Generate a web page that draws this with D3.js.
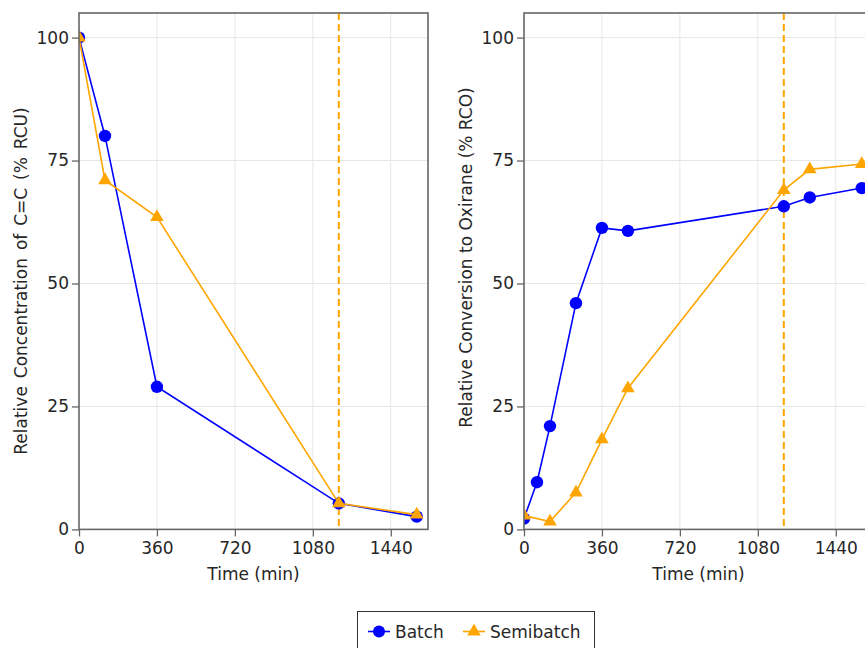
<!DOCTYPE html>
<html>
<head>
<meta charset="utf-8">
<script src="https://cdn.jsdelivr.net/npm/d3@7"></script>
<style>
  html, body { margin: 0; padding: 0; background: #fff; }
  svg { display: block; font-family: "DejaVu Sans", sans-serif; }
</style>
</head>
<body>
<svg id="chart" width="865" height="648"></svg>
<script>
// Time points (min) and measured values
const timeCBatch = [0, 120, 360, 1200, 1560];
const rcuBatch   = [100, 80, 29, 5.3, 2.6];
const timeCSemi  = [0, 120, 360, 1200, 1560];
const rcuSemi    = [100, 71, 63.5, 5.3, 3.0];

const timeOBatch = [0, 60, 120, 240, 360, 480, 1200, 1320, 1560];
const rcoBatch   = [2.2, 9.6, 21, 46, 61.3, 60.7, 65.7, 67.5, 69.4];
const timeOSemi  = [0, 120, 240, 360, 480, 1200, 1320, 1560];
const rcoSemi    = [2.8, 1.6, 7.5, 18.3, 28.7, 69, 73.2, 74.3];

const xTicks = [0, 360, 720, 1080, 1440];
const yTicks = [0, 25, 50, 75, 100];
const feedEnd = 1200; // end of semibatch feeding

const seriesNames = ["Batch", "Semibatch"];
const seriesColors = ["#0000ff", "#ffa500"];

const svg = d3.select("#chart");
const fontSize = 17;
const textColor = "#262626";
const frameColor = "#666";

const triangle = d3.symbol().type(d3.symbolTriangle).size(80);

function panel(opts) {
  const { left, top, width, height, yLabel, yLabelY, wordSpacing, batch, semi, id } = opts;
  const x = d3.scaleLinear().domain([0, 1612]).range([left, left + width]);
  const y = d3.scaleLinear().domain([0, 105]).range([top + height, top]);
  const g = svg.append("g");

  g.append("clipPath").attr("id", id)
    .append("rect").attr("x", left).attr("y", top).attr("width", width).attr("height", height);

  // grid
  g.append("g").selectAll("line").data(xTicks.filter(d => d > 0)).join("line")
    .attr("x1", d => x(d)).attr("x2", d => x(d)).attr("y1", top).attr("y2", top + height)
    .attr("stroke", "#e6e6e6").attr("stroke-width", 1);
  g.append("g").selectAll("line").data(yTicks.filter(d => d > 0)).join("line")
    .attr("y1", d => y(d)).attr("y2", d => y(d)).attr("x1", left).attr("x2", left + width)
    .attr("stroke", "#e6e6e6").attr("stroke-width", 1);

  // axes
  const xAxis = d3.axisBottom(x).tickValues(xTicks).tickSize(7).tickPadding(6).tickFormat(d3.format("d"));
  const yAxis = d3.axisLeft(y).tickValues(yTicks).tickSize(7).tickPadding(3).tickFormat(d3.format("d"));
  const gx = g.append("g").attr("transform", `translate(0,${top + height})`).call(xAxis);
  const gy = g.append("g").attr("transform", `translate(${left},0)`).call(yAxis);
  [gx, gy].forEach(a => {
    a.select(".domain").remove();
    a.selectAll(".tick line").attr("stroke", frameColor).attr("stroke-width", 1.3);
    a.selectAll(".tick text").attr("fill", textColor).attr("font-size", fontSize)
      .attr("font-family", "DejaVu Sans");
  });

  // dashed marker for end of feed
  g.append("line")
    .attr("x1", x(feedEnd)).attr("x2", x(feedEnd)).attr("y1", top).attr("y2", top + height)
    .attr("stroke", seriesColors[1]).attr("stroke-width", 2).attr("stroke-dasharray", "7,4");

  const data = g.append("g").attr("clip-path", `url(#${id})`);
  const line = d3.line().x(d => x(d[0])).y(d => y(d[1]));

  [batch, semi].forEach((s, i) => {
    const pts = s[0].map((t, k) => [t, s[1][k]]);
    data.append("path").datum(pts).attr("d", line)
      .attr("fill", "none").attr("stroke", seriesColors[i]).attr("stroke-width", 1.6);
    if (i === 0) {
      data.append("g").selectAll("circle").data(pts).join("circle")
        .attr("cx", d => x(d[0])).attr("cy", d => y(d[1])).attr("r", 6.2)
        .attr("fill", seriesColors[i]);
    } else {
      data.append("g").selectAll("path").data(pts).join("path")
        .attr("d", triangle)
        .attr("transform", d => `translate(${x(d[0])},${y(d[1])})`)
        .attr("fill", seriesColors[i]);
    }
  });

  // frame
  g.append("rect").attr("x", left).attr("y", top).attr("width", width).attr("height", height)
    .attr("fill", "none").attr("stroke", frameColor).attr("stroke-width", 1.6);

  // labels
  g.append("text").attr("x", left + width / 2).attr("y", top + height + 51)
    .attr("text-anchor", "middle").attr("font-size", fontSize).attr("fill", textColor)
    .text("Time (min)");
  g.append("text")
    .attr("transform", `translate(${left - 52},${yLabelY}) rotate(-90)`)
    .attr("text-anchor", "middle").attr("font-size", fontSize).attr("fill", textColor)
    .style("word-spacing", (wordSpacing || 0) + "px")
    .text(yLabel);
}

panel({ id: "clipA", left: 79, top: 13, width: 349, height: 516.4,
  yLabel: "Relative Concentration of C=C (% RCU)", yLabelY: 281, wordSpacing: 2.5,
  batch: [timeCBatch, rcuBatch], semi: [timeCSemi, rcuSemi] });
panel({ id: "clipB", left: 524, top: 13, width: 349, height: 516.4,
  yLabel: "Relative Conversion to Oxirane (% RCO)", yLabelY: 257.5,
  batch: [timeOBatch, rcoBatch], semi: [timeOSemi, rcoSemi] });

// legend
const lg = svg.append("g");
lg.append("rect").attr("x", 357.5).attr("y", 611.5).attr("width", 237).attr("height", 50)
  .attr("fill", "#fff").attr("stroke", "#333").attr("stroke-width", 1);
const legendItems = [
  { x: 368, tx: 395, name: seriesNames[0], color: seriesColors[0], shape: "circle" },
  { x: 463, tx: 490, name: seriesNames[1], color: seriesColors[1], shape: "triangle" }
];
legendItems.forEach(it => {
  const cy = 631.5;
  lg.append("line").attr("x1", it.x).attr("x2", it.x + 22).attr("y1", cy).attr("y2", cy)
    .attr("stroke", it.color).attr("stroke-width", 1.6);
  if (it.shape === "circle") {
    lg.append("circle").attr("cx", it.x + 11).attr("cy", cy).attr("r", 6).attr("fill", it.color);
  } else {
    lg.append("path").attr("d", triangle).attr("transform", `translate(${it.x + 11},${cy})`)
      .attr("fill", it.color);
  }
  lg.append("text").attr("x", it.tx).attr("y", 637.5).attr("font-size", fontSize)
    .attr("fill", textColor).text(it.name);
});
</script>
</body>
</html>
